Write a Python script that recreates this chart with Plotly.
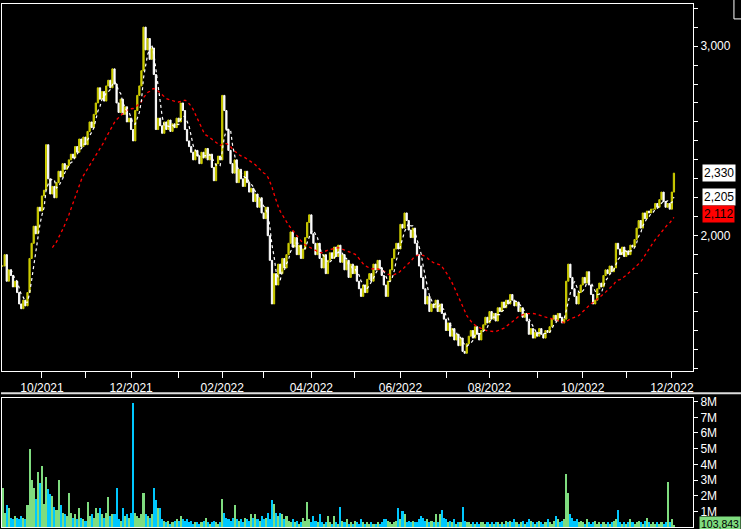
import numpy as np
import pandas as pd
import plotly.graph_objects as go

# ---------------- data ----------------
START_DATE = "2021-09-06"
END_DATE = "2022-12-02"

CLOSE = [
    1840, 1900, 1760, 1820, 1790, 1730, 1760, 1700, 1640, 1615,
    1660, 1630, 1700, 1880, 1960, 2050, 2010, 2150, 2130, 2210,
    2240, 2480, 2300, 2220, 2260, 2200, 2280, 2340, 2310, 2380,
    2350, 2370, 2400, 2430, 2410, 2470, 2440, 2510, 2470, 2520,
    2480, 2550, 2600, 2570, 2640, 2700, 2780, 2720, 2760, 2710,
    2790, 2820, 2780, 2880, 2800, 2700, 2650, 2720, 2640, 2680,
    2600, 2620, 2560, 2500, 2660, 2740, 2790, 2870, 3100, 2980,
    3040, 2930, 2990, 2850, 2560, 2620, 2580, 2540, 2600, 2560,
    2610, 2550, 2590, 2570, 2620, 2600, 2700, 2660, 2560, 2500,
    2470, 2440, 2400, 2450, 2420, 2380, 2440, 2410, 2460, 2400,
    2430, 2360, 2290, 2380, 2420, 2400, 2740, 2660, 2560, 2450,
    2380, 2330, 2400, 2280, 2350, 2300, 2260, 2340, 2280, 2230,
    2250, 2180, 2220, 2150, 2200, 2120, 2090, 2150, 2000, 1870,
    1640, 1800, 1740, 1850, 1800, 1880, 1830, 1900, 1960, 2020,
    1940, 1990, 1900, 1950, 1880, 1930, 1990, 2070, 2110, 2010,
    1960, 1900, 1960, 1880, 1830, 1900, 1800, 1870, 1910, 1880,
    1940, 1890, 1950, 1860, 1900, 1820, 1870, 1780, 1850, 1800,
    1840, 1760, 1720, 1680, 1740, 1700, 1770, 1800, 1760, 1850,
    1820, 1870, 1830, 1790, 1740, 1680, 1760, 1820, 1880, 1930,
    1960, 1930, 2060, 2040, 2120, 2080, 2030, 1990, 2040, 1960,
    1900, 1840, 1780, 1720, 1640, 1680, 1600, 1640, 1620, 1660,
    1600, 1640, 1590, 1560, 1500, 1540, 1470, 1510, 1450, 1480,
    1420, 1460, 1390, 1380, 1430, 1470, 1500, 1460, 1520, 1480,
    1450, 1500, 1530, 1570, 1540, 1600, 1560, 1590, 1550, 1620,
    1600, 1650, 1620, 1660, 1640, 1690, 1660, 1630, 1650, 1600,
    1620, 1570, 1590, 1550, 1480, 1510, 1460, 1490, 1470, 1510,
    1480, 1460, 1500, 1490, 1520, 1560, 1580, 1550, 1590, 1570,
    1540, 1560, 1760, 1850, 1780, 1720, 1680, 1640, 1700, 1740,
    1780, 1750, 1810, 1740, 1690, 1640, 1660, 1720, 1750, 1730,
    1790, 1820, 1800, 1840, 1810, 1830, 1960, 1930, 1900, 1940,
    1890, 1920, 1900, 1950, 1940, 1980, 2040, 2080, 2040, 2120,
    2090, 2130, 2120, 2140, 2140, 2170, 2150, 2190, 2230, 2180,
    2150, 2170, 2140, 2230, 2330,
]

# volume in millions of shares
VOLUME_M = [
    2.5, 0.9, 1.4, 1.2, 0.6, 0.5, 0.7, 0.6, 0.5, 0.7,
    0.6, 0.5, 1.4, 5.0, 3.0, 2.5, 1.8, 3.5, 2.8, 3.9,
    1.5, 3.2, 2.4, 2.1, 2.0, 1.3, 1.1, 3.0, 1.4, 0.9,
    0.8, 0.7, 2.2, 0.9, 0.6, 0.8, 0.5, 1.2, 0.6, 0.5,
    0.4, 1.6, 0.7, 0.8, 0.6, 1.2, 0.9, 1.2, 0.8, 0.6,
    0.9, 1.9, 0.7, 0.8, 0.8, 2.5, 0.5, 0.4, 1.2, 0.7,
    0.8, 0.6, 0.9, 7.9, 0.9, 0.7, 0.6, 0.8, 2.2, 0.8,
    0.7, 0.6, 0.8, 2.5, 1.7, 1.2, 1.2, 0.5, 0.4, 0.3,
    0.4, 0.2, 0.3, 0.4, 0.5, 0.4, 0.7, 0.5, 0.4, 0.5,
    0.3, 0.4, 0.2, 0.3, 0.3, 0.2, 0.3, 0.4, 0.6, 0.3,
    0.2, 0.3, 0.4, 0.3, 0.2, 0.3, 1.8, 0.9, 0.6, 0.5,
    0.4, 0.6, 1.4, 0.5, 0.4, 0.5, 0.3, 0.6, 0.5, 0.4,
    0.8, 0.6, 0.8, 0.5, 0.4, 0.7, 0.5, 0.6, 0.9, 0.5,
    1.7, 1.5, 0.9, 0.7, 0.9, 0.8, 0.5, 0.7, 0.4, 0.3,
    0.5, 0.3, 0.4, 0.2, 0.3, 0.6, 0.4, 1.6, 0.5, 0.3,
    0.7, 0.4, 0.3, 0.8, 0.3, 0.2, 0.3, 0.7, 0.3, 0.2,
    0.7, 0.3, 0.2, 1.3, 0.4, 0.3, 0.5, 0.2, 0.3, 0.2,
    0.4, 0.3, 0.2, 0.5, 0.3, 0.2, 0.3, 0.2, 0.3, 0.2,
    0.2, 0.3, 0.2, 0.3, 0.5, 0.5, 0.4, 0.3, 0.2, 0.3,
    0.4, 1.2, 0.5, 1.0, 0.8, 0.3, 0.4, 0.3, 0.4, 0.3,
    0.3, 0.5, 0.7, 0.6, 0.4, 0.5, 0.3, 0.4, 0.3, 0.8,
    0.3, 0.8, 1.1, 0.6, 0.5, 0.3, 0.4, 0.3, 0.5, 0.2,
    0.3, 0.3, 1.3, 0.4, 0.3, 0.3, 0.2, 0.3, 0.2, 0.3,
    0.2, 0.3, 0.3, 0.2, 0.3, 0.2, 0.3, 0.2, 0.3, 0.3,
    0.2, 0.3, 0.2, 0.4, 0.3, 0.4, 0.3, 0.5, 0.3, 0.2,
    0.3, 0.4, 0.2, 0.3, 0.5, 0.4, 0.3, 0.2, 0.3, 0.4,
    0.3, 0.2, 0.3, 0.5, 0.3, 0.2, 0.4, 0.7, 0.5, 0.3,
    0.4, 0.5, 3.4, 2.2, 0.8, 0.6, 0.4, 0.5, 0.3, 0.4,
    0.3, 0.2, 0.5, 0.3, 0.2, 0.3, 0.4, 0.2, 0.3, 0.2,
    0.3, 0.2, 0.3, 0.2, 0.3, 0.4, 0.5, 1.1, 0.3, 0.2,
    0.3, 0.2, 0.3, 0.5, 0.3, 0.2, 0.3, 0.4, 0.3, 0.2,
    0.4, 0.6, 0.3, 0.2, 0.3, 0.2, 0.3, 0.2, 0.3, 0.2,
    0.3, 2.9, 0.3, 0.5, 0.103843,
]

MA_SHORT = 5
MA_LONG = 25
LAST_CLOSE_LABEL = "2,330"
MA_SHORT_LABEL = "2,205"
MA_LONG_LABEL = "2,112"
LAST_VOLUME_LABEL = "103,843"
LAST_CLOSE_VALUE = 2330
MA_SHORT_VALUE = 2205
MA_LONG_VALUE = 2112
LAST_VOLUME_VALUE = 0.103843

PRICE_TICKS = list(range(1300, 3300, 100))
PRICE_TICK_LABELS = {2000: "2,000", 3000: "3,000"}
VOLUME_TICKS = [1, 2, 3, 4, 5, 6, 7, 8]
VOLUME_TICK_LABELS = ["1M", "2M", "3M", "4M", "5M", "6M", "7M", "8M"]

# ---------------- derived ----------------
dates = pd.bdate_range(START_DATE, END_DATE)
n = min(len(dates), len(CLOSE), len(VOLUME_M))
dates = dates[:n]
close = np.array(CLOSE[:n], dtype=float)
vol = np.array(VOLUME_M[:n], dtype=float)
idx = np.arange(n)
open_ = np.r_[close[0], close[:-1]]
up = close >= open_
base = np.minimum(open_, close)
body = np.abs(close - open_)

ma_s = pd.Series(close).rolling(MA_SHORT).mean()
ma_l = pd.Series(close).rolling(MA_LONG).mean()

YELLOW = "#CCCC00"
WHITE = "#FFFFFF"
GREEN = "#7FDC7F"
CYAN = "#00C8FF"
RED = "#FF0000"

price_colors = [YELLOW if u else WHITE for u in up]
vol_colors = [GREEN if u else CYAN for u in up]

tickvals, ticktext = [], []
for i in range(1, n):
    if dates[i].month != dates[i - 1].month:
        tickvals.append(i)
        ticktext.append(dates[i].strftime("%m/%Y") if dates[i].month % 2 == 0 else "")

fig = go.Figure()
fig.add_trace(go.Bar(
    x=idx, y=body, base=base, width=0.6,
    marker=dict(color=price_colors, line=dict(color=price_colors, width=1)),
    xaxis="x", yaxis="y", hoverinfo="skip"))
fig.add_trace(go.Scatter(
    x=idx, y=ma_l, mode="lines", line=dict(color=RED, width=1.3, dash="3px,3px"),
    xaxis="x", yaxis="y", hoverinfo="skip"))
fig.add_trace(go.Scatter(
    x=idx, y=ma_s, mode="lines", line=dict(color=WHITE, width=1.2, dash="3px,3px"),
    xaxis="x", yaxis="y", hoverinfo="skip"))
fig.add_trace(go.Bar(
    x=idx, y=vol, width=1.0,
    marker=dict(color=vol_colors, line=dict(width=0)),
    xaxis="x2", yaxis="y2", hoverinfo="skip"))

W, H = 741, 529
ML, MR, MT, MB = 1, 48, 1, 2
pw = W - ML - MR
ph = H - MT - MB


def py(pix):  # pixel y -> paper y
    return (H - MB - pix) / ph


def px(pix):  # pixel x -> paper x
    return (pix - ML) / pw


XR = [-0.3, 333.2]
axis_common = dict(showline=True, linecolor=WHITE, linewidth=1, mirror=True,
                   showgrid=False, zeroline=False)

fig.update_layout(
    width=W, height=H,
    margin=dict(l=ML, r=MR, t=MT, b=MB),
    paper_bgcolor="black", plot_bgcolor="black",
    showlegend=False, bargap=0,
    font=dict(family="Liberation Sans, Arial, sans-serif", size=11, color=WHITE),
    xaxis=dict(domain=[0, 1], anchor="y", range=XR, tickvals=tickvals, ticktext=ticktext,
               ticks="outside", ticklen=6, tickcolor=WHITE, tickfont=dict(size=12, color=WHITE),
               **axis_common),
    yaxis=dict(domain=[py(370), 1], anchor="x", side="right", range=[1287, 3222],
               tickvals=PRICE_TICKS, ticktext=[PRICE_TICK_LABELS.get(v, "") for v in PRICE_TICKS],
               ticks="outside", ticklen=4, tickcolor=WHITE, tickfont=dict(size=12, color=WHITE),
               **axis_common),
    xaxis2=dict(domain=[0, 1], anchor="y2", range=XR, showticklabels=False, ticks="",
                **axis_common),
    yaxis2=dict(domain=[0, py(397)], anchor="x2", side="right", range=[0, 8.25],
                tickvals=VOLUME_TICKS, ticktext=VOLUME_TICK_LABELS,
                ticks="outside", ticklen=4, tickcolor=WHITE, tickfont=dict(size=12, color=WHITE),
                **axis_common),
)

label_x = px(702)
for val, txt, bg in [(LAST_CLOSE_VALUE, LAST_CLOSE_LABEL, WHITE),
                     (MA_SHORT_VALUE, MA_SHORT_LABEL, WHITE),
                     (MA_LONG_VALUE, MA_LONG_LABEL, RED)]:
    fig.add_annotation(x=label_x, xref="paper", y=val, yref="y", text=txt,
                       showarrow=False, xanchor="left", yanchor="middle",
                       bgcolor=bg, font=dict(color="black", size=12), borderpad=1)
fig.add_annotation(x=px(741), xref="paper", y=LAST_VOLUME_VALUE, yref="y2", text=LAST_VOLUME_LABEL,
                   showarrow=False, xanchor="right", yanchor="middle", yshift=1,
                   bgcolor=GREEN, font=dict(color="black", size=10.5), borderpad=1)

# separator between panels and corner box
fig.add_shape(type="line", xref="paper", yref="paper", x0=px(0), x1=px(741),
              y0=py(392.5), y1=py(392.5), line=dict(color="#DDDDDD", width=2))
fig.add_shape(type="rect", xref="paper", yref="paper", x0=px(734), x1=px(760),
              y0=py(16), y1=py(-5), line=dict(color=WHITE, width=1))

fig.write_html(
    "out.html",
    config={"displayModeBar": False, "staticPlot": True},
    post_script="document.body.style.margin='0';document.body.style.padding='0';"
                "document.body.style.overflow='hidden';"
                "document.documentElement.style.overflow='hidden';",
)
